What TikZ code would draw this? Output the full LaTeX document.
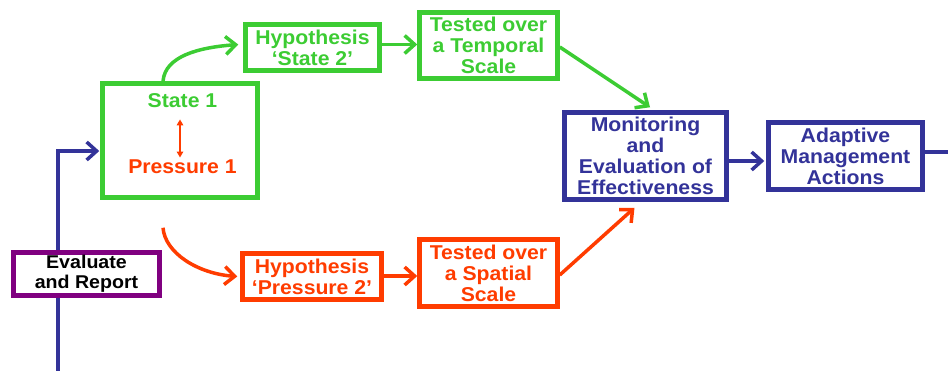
\documentclass[tikz,border=0pt]{standalone}
\usepackage{fontspec}
\setmainfont{Liberation Sans}[FakeStretch=1.06]
\usetikzlibrary{arrows.meta}
\definecolor{stategreen}{RGB}{60,204,51}
\definecolor{pressred}{RGB}{255,60,0}
\definecolor{mgmtblue}{RGB}{51,51,153}
\definecolor{reportpurple}{RGB}{128,0,128}

\begin{document}
\begin{tikzpicture}[x=1pt,y=-1pt,
  txt/.style={font=\bfseries\fontsize{20}{21}\selectfont},
  box/.style={txt, draw, line width=4.5pt, rectangle, inner sep=0pt, align=center},
  gbox/.style={box, draw=stategreen, text=stategreen},
  rbox/.style={box, draw=pressred, text=pressred},
  bbox/.style={box, draw=mgmtblue, text=mgmtblue},
  label/.style={txt, inner sep=0pt, anchor=base},
  link/.style={line width=3.5pt, -{Straight Barb[length=10pt,width=18pt]}},
]
\useasboundingbox (0,0) rectangle (948,370);
\clip (0,0) rectangle (948,370);

% boxes
\node[gbox, minimum width=155pt, minimum height=114pt] (state) at (180,140.5) {};
\node[label, text=stategreen] (s1) at (182.5,107) {State 1};
\node[label, text=pressred] (p1) at (182.5,173) {Pressure 1};

\node[gbox, minimum width=134pt, minimum height=46pt] (hs) at (312.5,47.5) {Hypothesis\\‘State 2’};
\node[gbox, minimum width=138pt, minimum height=66pt] (tt) at (488.5,45.5) {Tested over\\a Temporal\\Scale};

\node[box, draw=reportpurple, text=black, minimum width=146pt, minimum height=43pt,
      font=\bfseries\fontsize{18.5}{20}\selectfont] (er) at (86.5,274) {Evaluate\\and Report};

\node[rbox, minimum width=139pt, minimum height=46pt] (hp) at (312,276.5) {Hypothesis\\‘Pressure 2’};
\node[rbox, minimum width=138pt, minimum height=67pt] (ts) at (488.5,273) {Tested over\\a Spatial\\Scale};

\node[bbox, minimum width=162pt, minimum height=87pt] (mon) at (645.5,156) {Monitoring\\and\\Evaluation of\\Effectiveness};
\node[bbox, minimum width=154pt, minimum height=67pt] (am) at (845.5,156) {Adaptive\\Management\\Actions};

% state / pressure link inside the first box
\draw[pressred, line width=1.8pt, {Triangle[length=6pt,width=6.5pt]}-{Triangle[length=6pt,width=6.5pt]}]
  ([yshift=-12pt]s1.south -| state.center) -- ([yshift=1.5pt]p1.north -| state.center);

% state branch (green)
\draw[link, stategreen] ([xshift=-17pt]state.north) .. controls +(2,-25) and +(-40,3) .. ([xshift=-5pt,yshift=3pt]hs.west);
\draw[link, stategreen] ([yshift=3pt]hs.east) -- ([yshift=3pt]hs.east -| tt.west);
\draw[link, stategreen] ([yshift=-1.5pt]tt.east) -- ([xshift=4.5pt,yshift=3pt]mon.north);

% pressure branch (red)
\coordinate (pstart) at ([xshift=-17pt,yshift=-28pt]state.south);
\draw[link, pressred] (pstart) .. controls +(2,25) and +(-40,-3) .. ([xshift=-3pt]hp.west);
\draw[link, pressred] ([yshift=0.5pt]hp.east) -- ([yshift=0.5pt]hp.east -| ts.west);
\draw[link, pressred] ([yshift=-2pt]ts.east) -- ([xshift=-11pt,yshift=-6pt]mon.south);

% management flow (blue)
\draw[link, mgmtblue] ([yshift=-5pt]mon.east) -- ([yshift=-5pt,xshift=-2pt]mon.east -| am.west);
\coordinate (out) at (962,152);
\draw[link, mgmtblue] ([yshift=4pt]am.east) -- (out);

% report loop
\draw[link, mgmtblue] ([xshift=-28.5pt]er.north) |- ([yshift=-10.5pt,xshift=-1pt]state.west);
\coordinate (down) at (58,375);
\draw[mgmtblue, line width=3.5pt] ([xshift=-28.5pt]er.south) -- (down);
\end{tikzpicture}
\end{document}
